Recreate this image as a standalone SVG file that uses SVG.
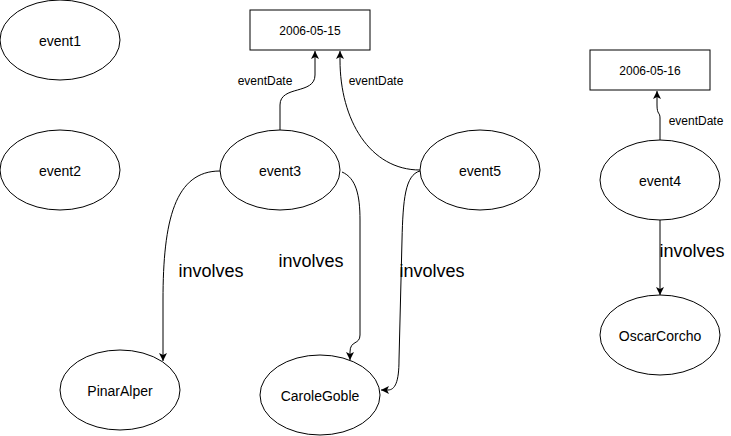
<svg xmlns="http://www.w3.org/2000/svg" width="731" height="436" viewBox="0 0 731 436">
<style>
.n{fill:#fff;stroke:#000;stroke-width:1}
.t{font-family:"Liberation Sans",Arial,sans-serif;fill:#000;text-anchor:middle;dominant-baseline:central}
.s{font-size:14px}
.b{font-size:12px}
.e{fill:none;stroke:#000;stroke-width:1}
.l{font-family:"Liberation Sans",Arial,sans-serif;fill:#000;text-anchor:middle;dominant-baseline:central}
.lg{font-size:18px}
.sm{font-size:12px}
</style>
<defs>
<marker id="ar" viewBox="0 0 9 8" refX="8" refY="4" markerWidth="9" markerHeight="8" markerUnits="userSpaceOnUse" orient="auto">
<path d="M0,0 L8,4 L0,8 L2,4 z" fill="#000"/>
</marker>
</defs>
<g id="edges">
<path class="e" d="M280,130 L280,105 C280,85 315,95 315,75 L315,51" marker-end="url(#ar)"/>
<path class="e" d="M420,170 C370,170 340,120 340,60 L340,51" marker-end="url(#ar)"/>
<path class="e" d="M220,171 C175,171 163,220 163,300 L163,361" marker-end="url(#ar)"/>
<path class="e" d="M342,172 C356,178 360,195 360,220 L360,335 C360,345 350,340 350,352 L350,360" marker-end="url(#ar)"/>
<path class="e" d="M420,171 C405,175 403,200 402,240 L399,360 C399,382 395,390 388,390 L381,390" marker-end="url(#ar)"/>
<path class="e" d="M660,140 L660,118 C660,112 657,115 657,105 L657,91" marker-end="url(#ar)"/>
<path class="e" d="M660,220 L660,295" marker-end="url(#ar)"/>
<text class="l sm" x="265" y="81">eventDate</text>
<text class="l sm" x="376" y="81">eventDate</text>
<text class="l sm" x="696" y="121">eventDate</text>
<text class="l lg" x="211" y="271">involves</text>
<text class="l lg" x="311" y="261">involves</text>
<text class="l lg" x="432" y="271">involves</text>
<text class="l lg" x="692" y="251">involves</text>
</g>
<g id="event1"><ellipse class="n" cx="60" cy="40" rx="60" ry="40"/><text class="t s" x="60" y="41">event1</text></g>
<g id="event2"><ellipse class="n" cx="60" cy="170" rx="60" ry="40"/><text class="t s" x="60" y="171">event2</text></g>
<g id="event3"><ellipse class="n" cx="280" cy="170" rx="60" ry="40"/><text class="t s" x="280" y="171">event3</text></g>
<g id="event5"><ellipse class="n" cx="480" cy="170" rx="60" ry="40"/><text class="t s" x="480" y="171">event5</text></g>
<g id="event4"><ellipse class="n" cx="660" cy="180" rx="60" ry="40"/><text class="t s" x="660" y="181">event4</text></g>
<g id="date1"><rect class="n" x="250" y="10" width="120" height="40"/><text class="t b" x="310" y="31">2006-05-15</text></g>
<g id="date2"><rect class="n" x="590" y="50" width="120" height="40"/><text class="t b" x="650" y="71">2006-05-16</text></g>
<g id="PinarAlper"><ellipse class="n" cx="120" cy="390" rx="60" ry="40"/><text class="t s" x="120" y="391">PinarAlper</text></g>
<g id="CaroleGoble"><ellipse class="n" cx="320" cy="395" rx="60" ry="40"/><text class="t s" x="320" y="396">CaroleGoble</text></g>
<g id="OscarCorcho"><ellipse class="n" cx="660" cy="335" rx="60" ry="40"/><text class="t s" x="660" y="336">OscarCorcho</text></g>
</svg>
